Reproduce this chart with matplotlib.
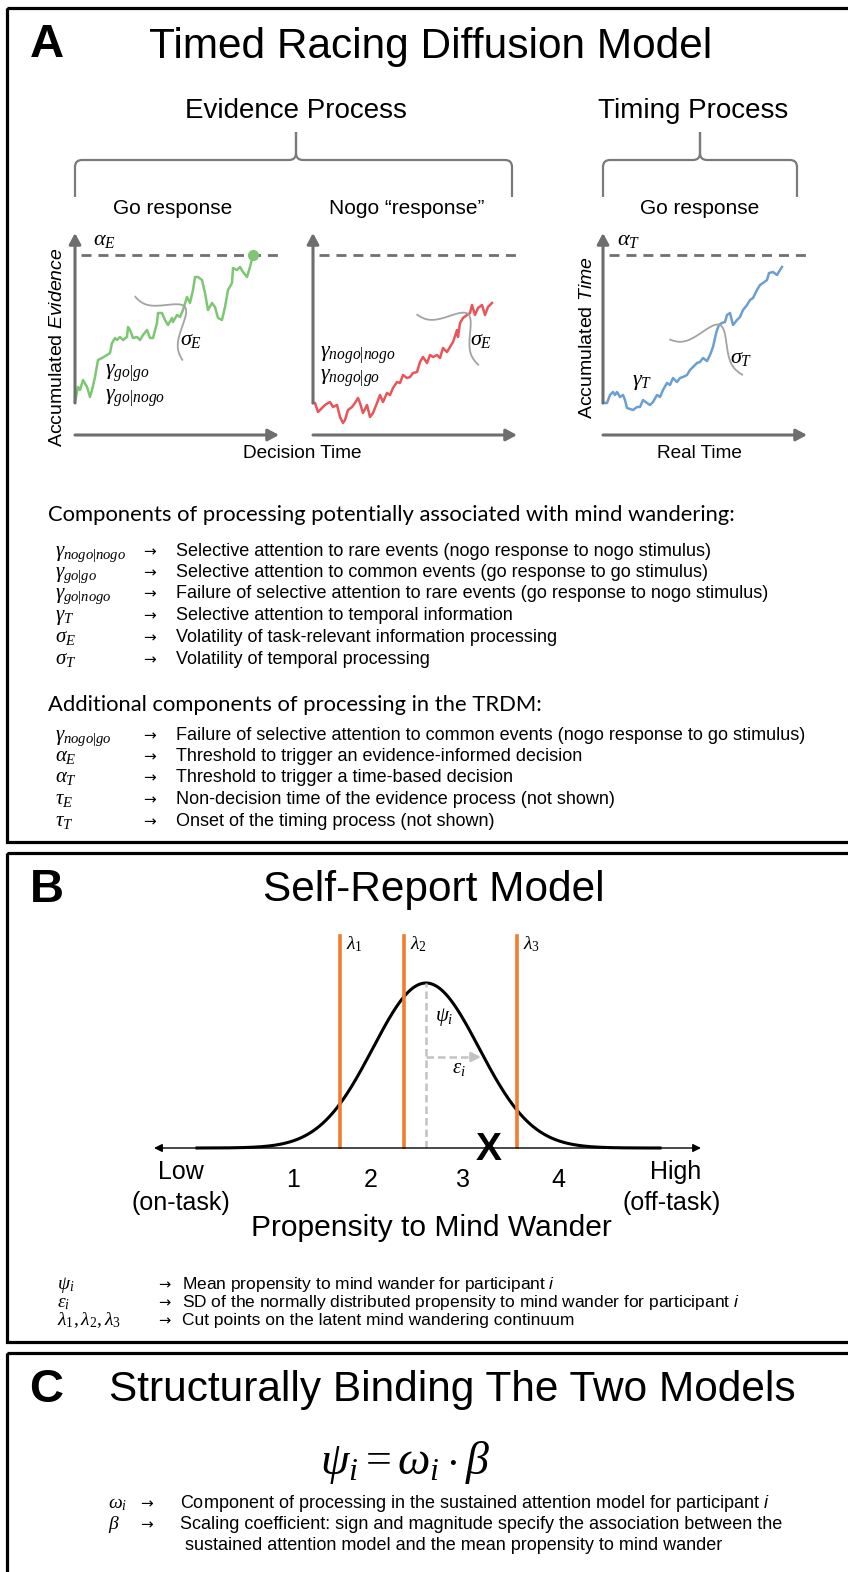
import numpy as np
import matplotlib.pyplot as plt
from matplotlib.patches import Rectangle, PathPatch
from matplotlib.path import Path

W, H = 848, 1572

# accumulators (pixels from each origin)
go_t = [0, 3, 5, 8, 12, 15, 17, 20, 23, 27, 32, 35, 37, 40, 42, 45, 48, 52, 53, 55,
        58, 62, 65, 68, 72, 75, 78, 82, 83, 87, 90, 93, 97, 98, 102, 105, 108, 112, 115, 118,
        120, 123, 127, 130, 133, 137, 140, 143, 147, 150, 153, 157, 158, 162, 165, 168, 172, 175, 178]
go_ev = [33, 48, 45, 55, 48, 38, 45, 58, 75, 77, 80, 82, 92, 97, 95, 98, 95, 98, 108, 105,
         97, 98, 95, 100, 105, 97, 97, 112, 122, 122, 115, 110, 117, 113, 120, 118, 125, 138, 132, 145,
         158, 158, 155, 142, 125, 132, 128, 117, 115, 128, 145, 152, 167, 165, 168, 163, 158, 168, 180]

nogo_t = [0, 2, 5, 9, 12, 15, 17, 20, 24, 27, 30, 32, 35, 39, 42, 45, 47, 50, 54, 57,
          60, 64, 67, 70, 74, 77, 80, 84, 87, 90, 94, 97, 100, 104, 107, 110, 114, 117, 120, 124,
          127, 130, 134, 137, 140, 144, 145, 147, 150, 154, 157, 159, 162, 165, 169, 172, 175, 179]
nogo_ev = [32, 32, 23, 27, 30, 32, 33, 28, 30, 18, 12, 15, 25, 28, 32, 37, 32, 22, 30, 18,
           22, 32, 40, 33, 42, 40, 47, 53, 52, 60, 57, 58, 62, 63, 73, 78, 72, 80, 78, 80,
           77, 87, 83, 88, 93, 105, 98, 112, 117, 120, 122, 130, 120, 127, 130, 120, 128, 132]

tim_t = [0, 4, 7, 10, 12, 14, 17, 20, 22, 24, 27, 30, 34, 37, 40, 44, 47, 50, 54, 57,
         60, 64, 67, 70, 74, 77, 80, 84, 87, 90, 94, 97, 100, 104, 107, 110, 112, 114, 116, 119,
         122, 124, 127, 130, 134, 137, 140, 144, 147, 150, 154, 157, 160, 164, 166, 170, 174, 177, 179]
tim_acc = [32, 32, 40, 43, 40, 43, 38, 40, 35, 27, 26, 25, 28, 28, 35, 32, 30, 33, 40, 38,
           45, 52, 50, 57, 53, 57, 58, 60, 65, 68, 72, 73, 77, 74, 80, 88, 97, 105, 110, 112,
           113, 120, 122, 110, 115, 118, 125, 130, 135, 137, 145, 150, 152, 155, 162, 163, 160, 165, 168]
threshold = 180

# self-report model: latent continuum (pixels along the axis)
mw_mean = 426
mw_sd = 53
mw_height = 165
cut_points = [340, 404, 517]
cut_labels = [r'$\lambda_1$', r'$\lambda_2$', r'$\lambda_3$']
categories = ['1', '2', '3', '4']

trdm_syms = [r'$\gamma_{nogo|nogo}$', r'$\gamma_{go|go}$', r'$\gamma_{go|nogo}$',
             r'$\gamma_T$', r'$\sigma_E$', r'$\sigma_T$']
trdm_desc = ['Selective attention to rare events (nogo response to nogo stimulus)',
             'Selective attention to common events (go response to go stimulus)',
             'Failure of selective attention to rare events (go response to nogo stimulus)',
             'Selective attention to temporal information',
             'Volatility of task-relevant information processing',
             'Volatility of temporal processing']
extra_syms = [r'$\gamma_{nogo|go}$', r'$\alpha_E$', r'$\alpha_T$', r'$\tau_E$', r'$\tau_T$']
extra_desc = ['Failure of selective attention to common events (nogo response to go stimulus)',
              'Threshold to trigger an evidence-informed decision',
              'Threshold to trigger a time-based decision',
              'Non-decision time of the evidence process (not shown)',
              'Onset of the timing process (not shown)']
sr_syms = [r'$\psi_i$', r'$\varepsilon_i$', r'$\lambda_1, \lambda_2, \lambda_3$']
sr_desc = [r'Mean propensity to mind wander for participant $\mathsf{i}$',
           r'SD of the normally distributed propensity to mind wander for participant $\mathsf{i}$',
           'Cut points on the latent mind wandering continuum']
bind_syms = [r'$\omega_i$', r'$\beta$']
bind_desc = [r'Component of processing in the sustained attention model for participant $\mathsf{i}$',
             'Scaling coefficient: sign and magnitude specify the association between the',
             'sustained attention model and the mean propensity to mind wander']

GREEN, RED, BLUE = '#7dc773', '#e8555a', '#6b9fd3'
AXC, DASH, SIG = '#6e6e6e', '#707070', '#a3a3a3'
ORANGE = '#ef7d31'

plt.rcParams['font.family'] = ['Liberation Sans', 'DejaVu Sans']
plt.rcParams['mathtext.fontset'] = 'custom'
plt.rcParams['mathtext.rm'] = 'Liberation Serif'
plt.rcParams['mathtext.it'] = 'Liberation Serif:italic'
plt.rcParams['mathtext.sf'] = 'Liberation Sans:italic'

fig = plt.figure(figsize=(W / 100, H / 100), dpi=100)
bg = fig.add_axes([0, 0, 1, 1])
bg.set_xlim(0, W)
bg.set_ylim(H, 0)
bg.axis('off')


def txt(x, y, s, size, ha='left', va='center', **kw):
    bg.text(x, y, s, fontsize=size, ha=ha, va=va, **kw)


def row(y, sym, desc, xs=(55, 143, 176), size=13, msize=15):
    # one "symbol -> description" line, everything sat on a common baseline
    yb = y + 5
    txt(xs[0], yb, sym, msize, va='baseline')
    txt(xs[1], yb, '\u2192', size - 2, va='baseline', family='DejaVu Sans')
    txt(xs[2], yb, desc, size, va='baseline')


def arrow(ax, p0, p1, lw=2.2, color=AXC, style='-|>,head_length=0.65,head_width=0.35', ms=10):
    ax.annotate('', xy=p1, xytext=p0, annotation_clip=False,
                arrowprops=dict(arrowstyle=style, lw=lw, color=color,
                                shrinkA=0, shrinkB=0, mutation_scale=ms))


def brace(x0, x1, xm, ytop, ymid, yend, r=7):
    for xe in (x0, x1):
        sgn = 1 if xe < xm else -1
        verts = [(xe, yend), (xe, ymid + r), (xe, ymid), (xe + sgn * r, ymid),
                 (xm - sgn * r, ymid), (xm, ymid), (xm, ymid - r), (xm, ytop)]
        codes = [Path.MOVETO, Path.LINETO, Path.CURVE3, Path.CURVE3,
                 Path.LINETO, Path.CURVE3, Path.CURVE3, Path.LINETO]
        bg.add_patch(PathPatch(Path(verts, codes), fill=False, ec='#7a7a7a', lw=1.6))


def spread(ax, tail1, tail2, peak):
    # little sideways normal curve marking the diffusion noise
    s = np.linspace(0, 1, 80)
    t1, t2, pk = np.array(tail1), np.array(tail2), np.array(peak)
    g = np.exp(-0.5 * ((s - 0.5) * 6) ** 2)
    pts = t1 + np.outer(s, t2 - t1) + np.outer(g, pk - (t1 + t2) / 2)
    ax.plot(pts[:, 0], pts[:, 1], color=SIG, lw=1.3)


def diffusion_axes(ox, oy=435):
    ax = fig.add_axes([(ox - 15) / W, 1 - (oy + 15) / H, 230 / W, 230 / H])
    ax.set_xlim(-15, 215)
    ax.set_ylim(-15, 215)
    ax.axis('off')
    arrow(ax, (0, 32), (0, 202))
    arrow(ax, (0, 0), (204, 0))
    ax.plot([6, 206], [threshold, threshold], color=DASH, lw=2, dashes=(3.6, 2.5))
    return ax


# frames
for y0, y1 in [(8, 842), (853, 1342), (1353, 1620)]:
    bg.add_patch(Rectangle((7, y0), 880, y1 - y0, fill=False, ec='black', lw=2.3))

# ---------------- A ----------------
txt(47, 45, 'A', 34, ha='center', weight='bold')
txt(431, 47, 'Timed Racing Diffusion Model', 30.5, ha='center')
txt(296, 111, 'Evidence Process', 20, ha='center')
txt(693, 111, 'Timing Process', 20, ha='center')
brace(75, 512, 296, 132, 160, 197)
brace(603, 797, 700, 132, 160, 197)
txt(173, 209, 'Go response', 15, ha='center')
txt(407, 209, 'Nogo \u201cresponse\u201d', 15, ha='center')
txt(700, 209, 'Go response', 15, ha='center')
txt(302, 454, 'Decision Time', 13.7, ha='center')
txt(699, 454, 'Real Time', 13.7, ha='center')
txt(58, 347, r'Accumulated $\mathsf{Evidence}$', 14, ha='center', rotation=90)
txt(587, 338, r'Accumulated $\mathsf{Time}$', 14, ha='center', rotation=90)

ax1 = diffusion_axes(75)
ax1.plot(go_t, go_ev, color=GREEN, lw=1.8)
ax1.plot(go_t[-1], go_ev[-1], 'o', ms=7, color=GREEN)
spread(ax1, (60, 138), (107, 75), (110, 128))
ax1.text(18, 195, r'$\alpha_E$', fontsize=16, va='center')
ax1.text(30, 62, r'$\gamma_{go|go}$', fontsize=16, va='center')
ax1.text(30, 37, r'$\gamma_{go|nogo}$', fontsize=16, va='center')
ax1.text(105, 95, r'$\sigma_E$', fontsize=16, va='center')

ax2 = diffusion_axes(313)
ax2.plot(nogo_t, nogo_ev, color=RED, lw=1.8)
spread(ax2, (104, 120), (165, 70), (155, 121))
ax2.text(7, 80, r'$\gamma_{nogo|nogo}$', fontsize=16, va='center')
ax2.text(7, 57, r'$\gamma_{nogo|go}$', fontsize=16, va='center')
ax2.text(157, 95, r'$\sigma_E$', fontsize=16, va='center')

ax3 = diffusion_axes(603)
ax3.plot(tim_t, tim_acc, color=BLUE, lw=1.8)
spread(ax3, (67, 95), (139, 60), (117, 110))
ax3.text(14, 195, r'$\alpha_T$', fontsize=16, va='center')
ax3.text(29, 53, r'$\gamma_T$', fontsize=16, va='center')
ax3.text(127, 78, r'$\sigma_T$', fontsize=16, va='center')

txt(48, 515, 'Components of processing potentially associated with mind wandering:', 15.8, family='Lato')
for y, s, d in zip([551, 572, 593, 615, 637, 659], trdm_syms, trdm_desc):
    row(y, s, d)

txt(48, 705, 'Additional components of processing in the TRDM:', 15.8, family='Lato')
for y, s, d in zip([735, 756, 777, 799, 821], extra_syms, extra_desc):
    row(y, s, d)

# ---------------- B ----------------
txt(47, 890, 'B', 34, ha='center', weight='bold')
txt(434, 890, 'Self-Report Model', 30.5, ha='center')

axb = fig.add_axes([140 / W, 1 - 1165 / H, 580 / W, 240 / H])
axb.set_xlim(140, 720)
axb.set_ylim(-17, 223)
axb.axis('off')
arrow(axb, (154, 0), (701, 0), lw=1, color='black',
      style='<|-|>,head_length=0.6,head_width=0.3', ms=8)
xs = np.linspace(197, 660, 400)
axb.plot(xs, mw_height * np.exp(-0.5 * ((xs - mw_mean) / mw_sd) ** 2), color='black', lw=2.2)
for c, lab in zip(cut_points, cut_labels):
    axb.plot([c, c], [1, 212], color=ORANGE, lw=2.6)
    axb.text(c + 6, 204, lab, fontsize=14, va='center')
axb.plot([mw_mean, mw_mean], [0, mw_height], color='#c2c2c2', lw=1.8, dashes=(3, 1.6))
axb.plot([mw_mean, mw_mean + mw_sd - 6], [91, 91], color='#c2c2c2', lw=1.8, dashes=(3, 1.6))
arrow(axb, (mw_mean + mw_sd - 8, 91), (mw_mean + mw_sd + 2, 91), lw=1.8, color='#c2c2c2',
      style='-|>,head_length=0.7,head_width=0.35', ms=8)
axb.text(mw_mean + 9, 131, r'$\psi_i$', fontsize=15, va='center')
axb.text(mw_mean + 26, 80, r'$\varepsilon_i$', fontsize=15, va='center')

txt(489, 1150, 'X', 28, ha='center', weight='bold')
for cx, cat in zip([293, 371, 463, 558], categories):
    txt(cx, 1180, cat, 18, ha='center')
txt(181, 1172, 'Low', 18, ha='center')
txt(181, 1203, '(on-task)', 18, ha='center')
txt(676, 1172, 'High', 18, ha='center')
txt(672, 1203, '(off-task)', 18, ha='center')
txt(431, 1228, 'Propensity to Mind Wander', 21.6, ha='center')

for y, s, d in zip([1284, 1302, 1320], sr_syms, sr_desc):
    row(y, s, d, xs=(57, 158, 182), size=12.5, msize=14)

# ---------------- C ----------------
txt(46, 1390, 'C', 34, ha='center', weight='bold')
txt(452, 1390, 'Structurally Binding The Two Models', 30.5, ha='center')
txt(405, 1462, r'$\psi_i = \omega_i \cdot \beta$', 33, ha='center')
row(1503, bind_syms[0], bind_desc[0], xs=(108, 140, 180), msize=14)
row(1524, bind_syms[1], bind_desc[1], xs=(108, 140, 180), msize=14)
txt(185, 1550, bind_desc[2], 13, va='baseline')

fig.savefig('out.png', dpi=100)
